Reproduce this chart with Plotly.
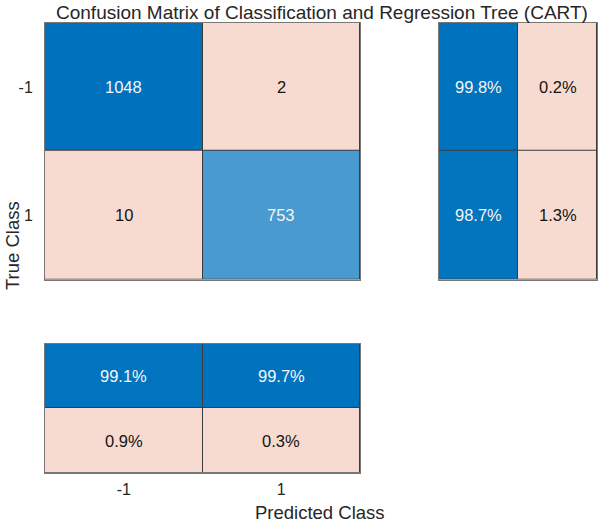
import plotly.graph_objects as go

classes = ["-1", "1"]
counts = [[1048, 2], [10, 753]]          # rows: true class, cols: predicted class
row_pct = [[99.8, 0.2], [98.7, 1.3]]     # row-normalized summary (right)
col_pct = [[99.1, 99.7], [0.9, 0.3]]     # column-normalized summary (bottom)
summary_rows = ["pos", "neg"]
summary_cols = ["pos", "neg"]

W, H = 600, 523
BLUE = (0, 114, 189)
PINK = "rgb(247,219,208)"
GRID = "rgb(60,60,60)"
FONT = "Liberation Sans, Arial, sans-serif"
TXT = "rgb(38,38,38)"

colorscale = [[0.0, PINK], [0.4999, PINK], [0.5, "rgb(255,255,255)"],
              [1.0, "rgb(%d,%d,%d)" % BLUE]]


def px_x(a, b):
    return [a / W, b / W]


def px_y(top, bottom):
    return [1 - bottom / H, 1 - top / H]


fig = go.Figure()

dmax = max(counts[i][i] for i in range(2))
z_main = [[counts[r][c] / dmax if r == c else -1 for c in range(2)] for r in range(2)]
z_row = [[row_pct[r][c] / 100 if c == 0 else -1 for c in range(2)] for r in range(2)]
z_col = [[col_pct[r][c] / 100 if r == 0 else -1 for c in range(2)] for r in range(2)]

common = dict(colorscale=colorscale, zmin=-1, zmax=1, showscale=False,
              xgap=1, ygap=1, hoverinfo="skip")

fig.add_trace(go.Heatmap(z=z_main, x=classes, y=classes, xaxis="x", yaxis="y", **common))
fig.add_trace(go.Heatmap(z=z_row, x=summary_cols, y=classes, xaxis="x2", yaxis="y2", **common))
fig.add_trace(go.Heatmap(z=z_col, x=classes, y=summary_rows, xaxis="x3", yaxis="y3", **common))

annotations = []


def add_texts(vals, zs, xref, yref, fmt):
    for r in range(2):
        for c in range(2):
            annotations.append(dict(
                x=c, y=r, xref=xref, yref=yref, text=fmt(vals[r][c]),
                showarrow=False, xanchor="center", yanchor="middle",
                font=dict(family=FONT, size=16.5,
                          color="rgb(245,245,245)" if zs[r][c] > 0.5 else "rgb(20,20,20)")))


add_texts(counts, z_main, "x", "y", lambda v: str(v))
add_texts(row_pct, z_row, "x2", "y2", lambda v: f"{v:.1f}%")
add_texts(col_pct, z_col, "x3", "y3", lambda v: f"{v:.1f}%")

annotations.append(dict(text="Confusion Matrix of Classification and Regression Tree (CART)",
                        x=322 / W, y=1 - 12 / H, xref="paper", yref="paper",
                        xanchor="center", yanchor="middle",
                        showarrow=False, font=dict(family=FONT, size=19, color=TXT)))
annotations.append(dict(text="True Class", x=12 / W, y=1 - 246 / H, xref="paper", yref="paper",
                        xanchor="center", yanchor="middle",
                        textangle=-90, showarrow=False,
                        font=dict(family=FONT, size=18.5, color=TXT)))
annotations.append(dict(text="Predicted Class", x=320 / W, y=1 - 512 / H, xref="paper", yref="paper",
                        xanchor="center", yanchor="middle",
                        showarrow=False, font=dict(family=FONT, size=18.5, color=TXT)))

axis_common = dict(type="category", showgrid=False, zeroline=False, showline=True, mirror=True,
                   linecolor="rgb(120,120,120)", linewidth=1, ticks="",
                   tickfont=dict(family=FONT, size=16, color=TXT))

fig.update_layout(
    width=W, height=H,
    margin=dict(l=0, r=0, t=0, b=0),
    paper_bgcolor="white", plot_bgcolor=GRID,
    annotations=annotations,
    xaxis=dict(domain=px_x(45, 360), anchor="y", showticklabels=False, **axis_common),
    yaxis=dict(domain=px_y(22.7, 279.5), anchor="x", autorange="reversed",
               ticklabelstandoff=8, **axis_common),
    xaxis2=dict(domain=px_x(439, 597), anchor="y2", showticklabels=False, **axis_common),
    yaxis2=dict(domain=px_y(22.7, 279.5), anchor="x2", autorange="reversed",
                showticklabels=False, **axis_common),
    xaxis3=dict(domain=px_x(45, 360), anchor="y3", ticklabelstandoff=2, **axis_common),
    yaxis3=dict(domain=px_y(344, 472.7), anchor="x3", autorange="reversed",
                showticklabels=False, **axis_common),
)

fig.write_html("out.html")
